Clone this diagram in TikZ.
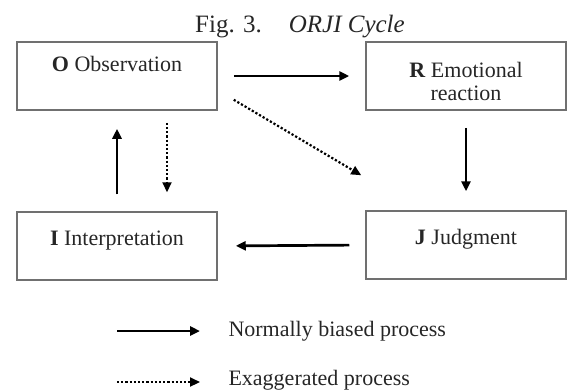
\documentclass[tikz,border=0pt]{standalone}
\usepackage{fontspec}
\setmainfont{Liberation Serif}
\usetikzlibrary{arrows.meta}

\definecolor{boxgray}{HTML}{707070}
\definecolor{inkgray}{HTML}{262626}

\begin{document}
\begin{tikzpicture}[x=1pt, y=-1pt,
    every node/.style={font=\fontsize{22}{23}\selectfont, text=inkgray},
    stage/.style={rectangle, draw=boxgray, line width=1.5pt, minimum width=200pt, minimum height=68pt, inner sep=0pt, align=center},
    oneline/.style={text height=15pt, text depth=#1},
    edge/.style={-{Triangle[length=10pt, width=9pt]}, line width=2.7pt},
    exaggerated/.style={edge, line width=2.2pt, dash pattern=on 2.2pt off 2pt}]

  \useasboundingbox (0,0) rectangle (568,389);

  \node[anchor=base, font=\fontsize{25}{27}\selectfont] (title) at (300,32) {Fig. 3.\hspace{27pt}\textit{ORJI Cycle}};

  \node[stage, oneline=24pt] (obs) at (117,76) {\textbf{O} Observation};
  \node[stage, text height=48pt, text depth=0pt] (react) at (466,76) {\textbf{R} Emotional\\reaction};
  \node[stage, oneline=17pt] (interp) at (117,246) {\textbf{I} Interpretation};
  \node[stage, oneline=17pt] (judg) at (466,245) {\textbf{J} Judgment};

  \draw[edge, shorten <=16pt, shorten >=16pt] (obs.east) -- (react.west);
  \draw[edge, shorten <=17pt, shorten >=19pt] (react.south) -- (judg.north);
  \draw[edge, shorten <=16pt, shorten >=18pt] (judg.west) -- (interp.east);
  \draw[edge, shorten <=17pt, shorten >=18pt] (interp.north) -- (obs.south);

  \draw[exaggerated, shorten <=12pt, shorten >=19pt] ([xshift=50pt]obs.south) -- ([xshift=50pt]interp.north);
  \draw[exaggerated] ([xshift=16pt, yshift=11pt]obs.south east) -- ([xshift=-4pt, yshift=35pt]judg.north west);

  \coordinate (normal-a) at (117,331);
  \coordinate (normal-b) at (200,331);
  \coordinate (exag-a) at (117,382);
  \coordinate (exag-b) at (200,382);

  \draw[edge] (normal-a) -- (normal-b);
  \draw[exaggerated] (exag-a) -- (exag-b);

  \node[anchor=west] (normal-txt) at (225,331) {Normally biased process};
  \node[anchor=west] (exag-txt) at (225,380) {Exaggerated process};
\end{tikzpicture}
\end{document}
